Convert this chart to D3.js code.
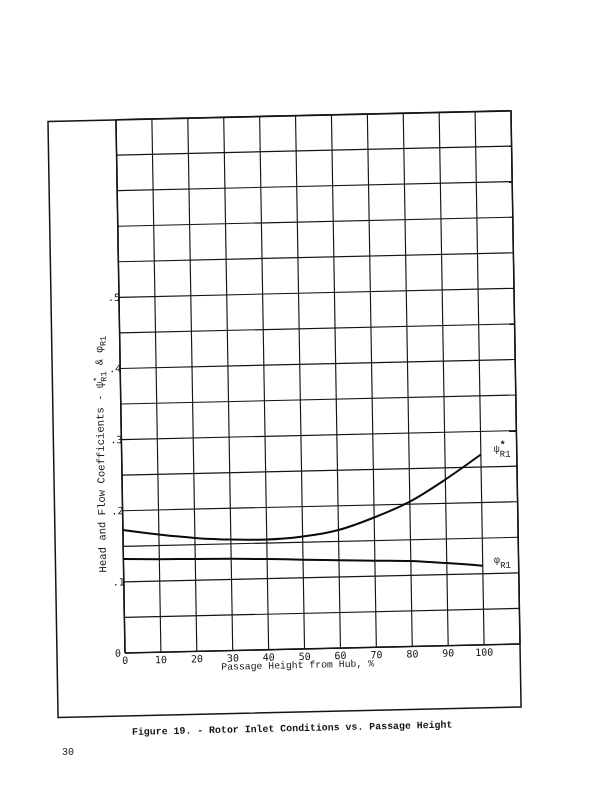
<!DOCTYPE html>
<html>
<head>
<meta charset="utf-8">
<script src="https://cdn.jsdelivr.net/npm/d3@7"></script>
<style>
  html, body { margin: 0; padding: 0; background: #fff; }
  svg { display: block; filter: grayscale(1); }
</style>
</head>
<body>
<svg id="chart" width="610" height="792"></svg>
<script>
// ---- data ----
const passageHeight = [0, 10, 20, 30, 40, 50, 60, 70, 80, 90, 100];           // % from hub
const psiR1 = [0.173, 0.1655, 0.1595, 0.156, 0.155, 0.158, 0.166, 0.1825, 0.2035, 0.2335, 0.2675];
const phiR1 = [0.132, 0.1307, 0.130, 0.129, 0.1275, 0.1254, 0.1236, 0.1217, 0.120, 0.116, 0.111];

const xTickValues = [0, 10, 20, 30, 40, 50, 60, 70, 80, 90, 100];
const xTickLabels = ["0", "10", "20", "30", "40", "50", "60", "70", "80", "90", "100"];
const yTickValues = [0, 0.1, 0.2, 0.3, 0.4, 0.5];
const yTickLabels = ["0", ".1", ".2", ".3", ".4", ".5"];

const xTitle = "Passage Height from Hub, %";
const caption = "Figure 19. - Rotor Inlet Conditions vs. Passage Height";
const pageNumber = "30";

// ---- layout ----
const grid = { left: 125, right: 520, top: 119.5, bottom: 653 };
const box = { left: 57, right: 520, top: 120, bottom: 716 };

const x = d3.scaleLinear().domain([0, 110]).range([grid.left, grid.right]);
const y = d3.scaleLinear().domain([0, 0.75]).range([grid.bottom, grid.top]);

const svg = d3.select("#chart");
svg.append("rect").attr("width", 610).attr("height", 792).attr("fill", "#fff");

// the scanned page is slightly skewed
const g = svg.append("g").attr("transform", "matrix(1,-0.0228,0.0169,1,-11.04,2.85)");

const ink = "#151515";

// outer frame
g.append("rect")
  .attr("x", box.left).attr("y", box.top)
  .attr("width", box.right - box.left).attr("height", box.bottom - box.top)
  .attr("fill", "none").attr("stroke", ink).attr("stroke-width", 1.5);

// grid
const gridG = g.append("g").attr("stroke", ink).attr("stroke-width", 1.15).attr("fill", "none");
gridG.selectAll("line.v").data(d3.range(0, 111, 10)).join("line")
  .attr("x1", d => x(d)).attr("x2", d => x(d))
  .attr("y1", y(0)).attr("y2", y(0.75));
gridG.selectAll("line.h").data(d3.range(0, 16).map(i => i * 0.05)).join("line")
  .attr("x1", x(0)).attr("x2", x(110))
  .attr("y1", d => y(d)).attr("y2", d => y(d));
gridG.append("line").attr("x1", x(0)).attr("x2", x(0)).attr("y1", y(0)).attr("y2", y(0.75)).attr("stroke-width", 1.5);
gridG.append("line").attr("x1", x(0)).attr("x2", x(110)).attr("y1", y(0)).attr("y2", y(0)).attr("stroke-width", 1.5);

// curves
const line = d3.line().x(d => x(d[0])).y(d => y(d[1])).curve(d3.curveMonotoneX);
g.append("path").datum(passageHeight.map((h, i) => [h, psiR1[i]]))
  .attr("d", line).attr("fill", "none").attr("stroke", "#0a0a0a").attr("stroke-width", 2);
g.append("path").datum(passageHeight.map((h, i) => [h, phiR1[i]]))
  .attr("d", line).attr("fill", "none").attr("stroke", "#0a0a0a").attr("stroke-width", 2);

// tick labels
const tickFont = "'DejaVu Sans Mono', monospace";
g.append("g").selectAll("text").data(xTickValues).join("text")
  .attr("x", d => x(d)).attr("y", y(0) + 11)
  .attr("text-anchor", "middle")
  .attr("font-family", tickFont).attr("font-size", 10).attr("fill", ink)
  .text((d, i) => xTickLabels[i]);

g.append("g").selectAll("text").data(yTickValues).join("text")
  .attr("x", d => d === 0 ? x(0) - 4 : x(0) + 1)
  .attr("y", d => y(d))
  .attr("dy", "0.35em")
  .attr("text-anchor", "end")
  .attr("font-family", tickFont).attr("font-size", 10).attr("fill", ink)
  .text((d, i) => yTickLabels[i]);

// axis titles
const typeFont = "'Liberation Mono', 'Courier New', monospace";
g.append("text")
  .attr("x", 221).attr("y", 672)
  .attr("font-family", typeFont).attr("font-size", 9.8).attr("fill", ink)
  .text(xTitle);

const yt = g.append("text")
  .attr("transform", "translate(107.5,572) rotate(-90)")
  .attr("font-family", typeFont).attr("font-size", 10.6).attr("fill", ink);
yt.append("tspan").text("Head and Flow Coefficients - \u03C8");
yt.append("tspan").attr("dy", -3.5).attr("font-size", 8.5).text("*");
yt.append("tspan").attr("dx", -5.1).attr("dy", 7).attr("font-size", 8.5).text("R1");
yt.append("tspan").attr("dy", -3.5).text(" & \u03C6");
yt.append("tspan").attr("dy", 3.5).attr("font-size", 8.5).text("R1");

// curve labels
const psiLab = g.append("text").attr("x", 497).attr("y", 460.5)
  .attr("font-family", typeFont).attr("font-size", 10).attr("fill", ink);
psiLab.append("tspan").text("\u03C8");
psiLab.append("tspan").attr("dy", -4).attr("font-size", 10).attr("font-weight", "bold").text("*");
psiLab.append("tspan").attr("dx", -6).attr("dy", 9).attr("font-size", 9).text("R1");

const phiLab = g.append("text").attr("x", 495.5).attr("y", 571.5)
  .attr("font-family", typeFont).attr("font-size", 10).attr("fill", ink);
phiLab.append("tspan").text("\u03C6");
phiLab.append("tspan").attr("dy", 5).attr("font-size", 9).text("R1");

// caption
g.append("text")
  .attr("x", 130.6).attr("y", 735)
  .attr("font-family", typeFont).attr("font-size", 9.9).attr("font-weight", "bold").attr("fill", ink)
  .text(caption);

// page number
svg.append("text")
  .attr("x", 62).attr("y", 755)
  .attr("font-family", typeFont).attr("font-size", 10).attr("fill", ink)
  .text(pageNumber);
</script>
</body>
</html>
